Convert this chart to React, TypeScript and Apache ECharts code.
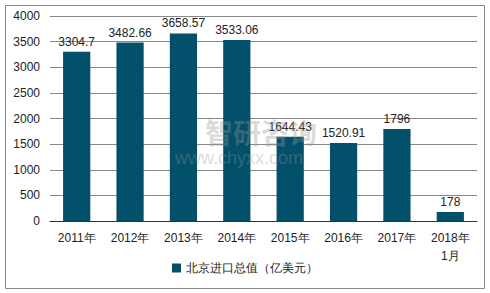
import React, { useEffect, useRef } from "react";
import * as echarts from "echarts";

const categories = ["2011年", "2012年", "2013年", "2014年", "2015年", "2016年", "2017年", "2018年\n1月"];
const values = [3304.7, 3482.66, 3658.57, 3533.06, 1644.43, 1520.91, 1796, 178];
const seriesName = "北京进口总值（亿美元）";

export default function App() {
  const ref = useRef<HTMLDivElement>(null);
  useEffect(() => {
    const chart = echarts.init(ref.current!, null, { renderer: "svg" });
    chart.setOption({
      animation: false,
      textStyle: { fontFamily: "Liberation Sans, Arial, sans-serif" },
      graphic: [
        { type: "rect", shape: { x: 5.5, y: 5.5, width: 479, height: 283 }, style: { fill: "none", stroke: "#888", lineWidth: 1 }, z: 0 },
        { type: "text", x: 205, y: 118, style: { text: "智研咨询", font: "bold 28px 'Noto Sans CJK SC'", fill: "rgba(150,150,150,0.35)" }, z: 10 },
        { type: "text", x: 175, y: 149, style: { text: "www.chyxx.com", font: "18px 'Liberation Sans'", fill: "rgba(150,150,150,0.35)" }, z: 10 },
      ],
      grid: { left: 50, right: 13, top: 16, bottom: 72 },
      xAxis: {
        type: "category",
        data: categories,
        axisLine: { lineStyle: { color: "#333" } },
        axisTick: { show: false },
        axisLabel: { color: "#222", fontSize: 12, margin: 8, lineHeight: 18 },
      },
      yAxis: {
        type: "value",
        min: 0,
        max: 4000,
        interval: 500,
        axisLine: { show: false },
        axisTick: { show: false },
        axisLabel: { color: "#222", fontSize: 12, margin: 10, formatter: (v: number) => String(v) },
        splitLine: { lineStyle: { color: "#888" } },
      },
      legend: {
        bottom: 14,
        left: "center",
        itemWidth: 9,
        itemHeight: 9,
        icon: "rect",
        itemGap: 5,
        textStyle: { color: "#222", fontSize: 12 },
        data: [seriesName],
      },
      series: [
        {
          name: seriesName,
          type: "bar",
          data: values,
          barWidth: "51%",
          itemStyle: { color: "#03506a" },
          label: { show: true, position: "top", color: "#222", fontSize: 12, distance: 4 },
        },
      ],
    });
    return () => chart.dispose();
  }, []);
  return <div ref={ref} style={{ width: 490, height: 293, position: "absolute", left: 0, top: 0 }} />;
}
